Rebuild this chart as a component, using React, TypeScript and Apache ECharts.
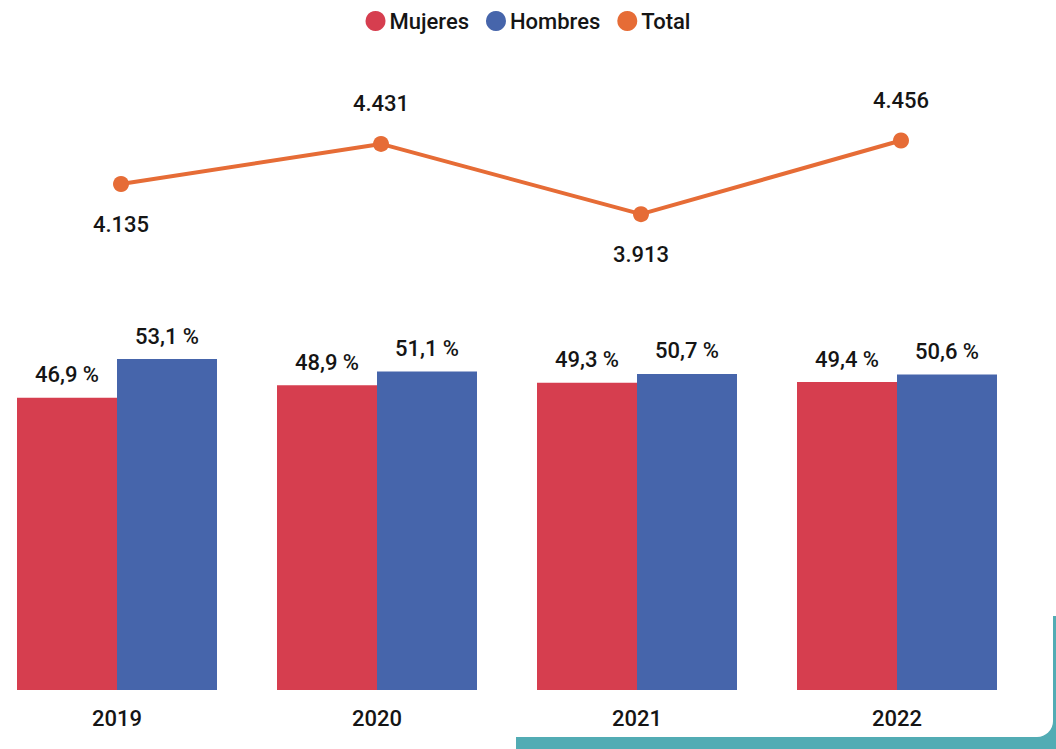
import React, { useEffect, useRef } from "react";
import * as echarts from "echarts";

const years = ["2019", "2020", "2021", "2022"];
const mujeres = [46.9, 48.9, 49.3, 49.4];
const hombres = [53.1, 51.1, 50.7, 50.6];
const total = [4135, 4431, 3913, 4456];
const totalLabelPos = ["bottom", "top", "bottom", "top"];

const RED = "#D63E4F";
const BLUE = "#4665AB";
const ORANGE = "#E66C36";
const TEAL = "#52ACB4";
const FONT = "Roboto";

const fmtPct = (v: number) => v.toFixed(1).replace(".", ",") + " %";
const fmtThousands = (v: number) => String(v).replace(/\B(?=(\d{3})+(?!\d))/g, ".");

export default function App() {
  const ref = useRef<HTMLDivElement>(null);
  useEffect(() => {
    if (!ref.current) return;
    const chart = echarts.init(ref.current, undefined, { renderer: "svg" });
    const textStyle = { fontFamily: FONT, fontSize: 22, fontWeight: 500, color: "#151515" };
    chart.setOption({
      animation: false,
      backgroundColor: "#fff",
      textStyle: { fontFamily: FONT },
      legend: {
        top: 5,
        left: "center",
        itemWidth: 20,
        itemHeight: 20,
        itemGap: 17,
        icon: "circle",
        textStyle: { ...textStyle, padding: [0, 0, 0, -1] },
        data: ["Mujeres", "Hombres", "Total"],
      },
      graphic: [
        { type: "rect", z: 0, shape: { x: 516, y: 616, width: 545, height: 140 }, style: { fill: TEAL } },
        { type: "rect", z: 0, shape: { x: 500, y: 560, width: 553, height: 177, r: [0, 0, 16, 0] }, style: { fill: "#fff" } },
      ],
      grid: [
        { left: 121, width: 780, top: 121, height: 122 },
        { left: 117, width: 780, top: 316, height: 374 },
      ],
      xAxis: [
        { type: "category", gridIndex: 0, data: years, show: false, boundaryGap: false },
        {
          type: "category",
          gridIndex: 1,
          data: years,
          boundaryGap: false,
          axisLine: { show: false },
          axisTick: { show: false },
          axisLabel: { ...textStyle, margin: 17 },
        },
      ],
      yAxis: [
        { type: "value", gridIndex: 0, min: 3700, max: 4600, show: false },
        { type: "value", gridIndex: 1, min: 0, max: 60, show: false },
      ],
      series: [
        {
          name: "Mujeres",
          type: "bar",
          xAxisIndex: 1,
          yAxisIndex: 1,
          data: mujeres,
          barWidth: 100,
          barGap: "0%",
          itemStyle: { color: RED },
          label: { show: true, position: "top", distance: 12, formatter: (p: any) => fmtPct(p.value), ...textStyle },
        },
        {
          name: "Hombres",
          type: "bar",
          xAxisIndex: 1,
          yAxisIndex: 1,
          data: hombres,
          barWidth: 100,
          barGap: "0%",
          itemStyle: { color: BLUE },
          label: { show: true, position: "top", distance: 12, formatter: (p: any) => fmtPct(p.value), ...textStyle },
        },
        {
          name: "Total",
          type: "line",
          xAxisIndex: 0,
          yAxisIndex: 0,
          data: total.map((v, i) => ({
            value: v,
            label: { position: totalLabelPos[i] },
          })),
          symbol: "circle",
          symbolSize: 16,
          lineStyle: { color: ORANGE, width: 4 },
          itemStyle: { color: ORANGE },
          label: { show: true, distance: 21, formatter: (p: any) => fmtThousands(p.value), ...textStyle },
        },
      ],
    });
    return () => chart.dispose();
  }, []);
  return (
    <div
      ref={ref}
      style={{ position: "absolute", left: 0, top: 0, width: 1056, height: 749 }}
    />
  );
}
